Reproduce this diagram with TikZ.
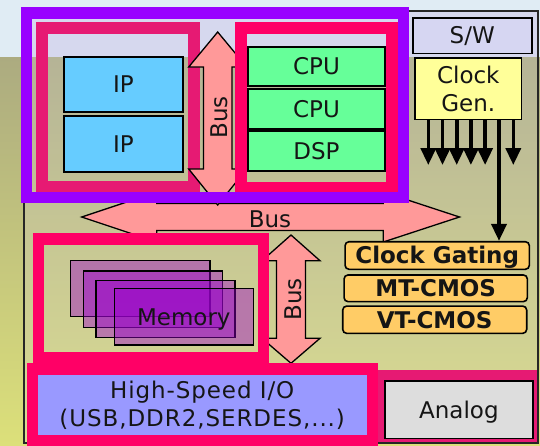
\documentclass[tikz,border=0pt]{standalone}
\usepackage{fontspec}
\setmainfont{DejaVu Sans}
\usetikzlibrary{arrows.meta}
\definecolor{purp}{HTML}{9900FF}
\definecolor{pinkS}{HTML}{FF0066}
\definecolor{pinkH}{HTML}{E61A73}
\definecolor{busc}{HTML}{FF9999}
\definecolor{ipblue}{HTML}{66CCFF}
\definecolor{cpugreen}{HTML}{66FF99}
\definecolor{memp}{HTML}{9900CC}
\definecolor{hsblue}{HTML}{9999FF}
\definecolor{anagray}{HTML}{DDDDDD}
\definecolor{swlav}{HTML}{D6D6F2}
\definecolor{clkyel}{HTML}{FFFF99}
\definecolor{orng}{HTML}{FFCC66}
\definecolor{bgtop}{HTML}{E0ECF4}
\definecolor{bgmid}{HTML}{ACAB80}
\definecolor{bgbot}{HTML}{DCE07A}
\definecolor{chipov}{HTML}{D8D4E8}
\definecolor{chiptop}{HTML}{D6D8EE}
\definecolor{txt}{HTML}{151515}
\begin{document}
\begin{tikzpicture}[x=1pt,y=-1pt,
  font=\fontsize{23}{28}\selectfont,
  box/.style={draw=black, line width=1.6pt, inner sep=0pt, text=txt,
    text depth=0pt, text height=16.8pt},
  mlbox/.style={draw=black, line width=1.6pt, inner sep=0pt, text=txt, align=center},
  optbox/.style={box, fill=orng, rounded corners=4pt, font=\fontsize{23}{28}\selectfont\bfseries},
  memrect/.style={draw=black, line width=1.4pt, fill=memp, fill opacity=0.42,
    draw opacity=1, text opacity=1, inner sep=0pt, text=txt,
    text depth=0pt, text height=16.8pt},
  busarrow/.style={draw=black, line width=1.3pt, fill=busc, line join=miter},
  buslabel/.style={text=txt, inner sep=0pt, text depth=0pt, text height=16.8pt},
  clkarrow/.style={line width=3.6pt, -{Triangle[width=15pt,length=17pt]}},
  pinkframe/.style={pinkS, line width=11.6pt},
  hatchframe/.style={pinkH, line width=12pt}
]
\useasboundingbox (0,0) rectangle (540,445);
% background
\fill[bgtop] (0,0) rectangle (540,57);
\shade[top color=bgmid, bottom color=bgbot] (0,57) rectangle (540,445);
% chip
\fill[chiptop] (24,11) rectangle (538,57);
\fill[chipov, opacity=0.22] (24,57) rectangle (538,443);
\draw[line width=1.2pt, black!85] (24,11) rectangle (538,443);

% horizontal bus
\draw[busarrow] (81.7,217) -- (156.7,192) -- (156.7,203.5) -- (383.3,203.5)
  -- (383.3,192) -- (459.5,217) -- (383.3,242) -- (383.3,230.5)
  -- (156.7,230.5) -- (156.7,242) -- cycle;
\node[buslabel] (bush) at (270,219.3) {Bus};

% left (IP) group
\draw[hatchframe] (42,28) rectangle (194,187);
\node[box, fill=ipblue, minimum width=119pt, minimum height=55pt] (ip1) at (123.5,84.5) {IP};
\node[box, fill=ipblue, minimum width=119pt, minimum height=56pt] (ip2) at (123.5,144) {IP};

% upper vertical bus
\draw[busarrow] (217.7,32) -- (246.7,67) -- (232,67) -- (232,169) -- (246.7,169)
  -- (217.7,205) -- (188.7,169) -- (203.4,169) -- (203.4,67) -- (188.7,67) -- cycle;
\node[buslabel, rotate=90] (busv1) at (219.5,117.5) {Bus};

% CPU group
\draw[pinkframe] (240.8,27.8) rectangle (391.9,187.3);
\node[box, fill=cpugreen, minimum width=137pt, minimum height=39pt] (cpu1) at (316.5,66.5) {CPU};
\node[box, fill=cpugreen, minimum width=137pt, minimum height=40pt] (cpu2) at (316.5,109) {CPU};
\node[box, fill=cpugreen, minimum width=137pt, minimum height=40pt] (dsp) at (316.5,151) {DSP};

% purple frame
\draw[purp, line width=11.7pt] (26.5,13.3) rectangle (403.5,197.5);

% S/W and clock generator
\node[box, fill=swlav, minimum width=119pt, minimum height=35.6pt] (sw) at (472.2,35.5) {S/W};
\node[mlbox, fill=clkyel, minimum width=106.7pt, minimum height=61.6pt] (clk) at (468.3,88.5) {Clock\\Gen.};

% clock gating etc.
\node[optbox, minimum width=184.3pt, minimum height=27.6pt] (cg) at (437.2,255.5) {Clock Gating};
\node[optbox, minimum width=183.3pt, minimum height=26.7pt] (mt) at (435.7,288.3) {MT-CMOS};
\node[optbox, minimum width=184pt, minimum height=27.3pt] (vt) at (434.7,319.7) {VT-CMOS};

% clock arrows
\coordinate (e1) at (428.3,165);
\coordinate (e2) at (442.5,165);
\coordinate (e3) at (456.7,165);
\coordinate (e4) at (470.9,165);
\coordinate (e5) at (485.1,165);
\coordinate (e7) at (513.3,165);
\coordinate (lx) at (499,0);
\foreach \e in {e1,e2,e3,e4,e5,e7}
  \draw[clkarrow] (clk.south -| \e) -- (\e);
\draw[clkarrow] (clk.south -| lx) -- (cg.north -| lx);

% lower vertical bus
\draw[busarrow] (291,235) -- (320,260.7) -- (305.5,260.7) -- (305.5,338.3) -- (320,338.3)
  -- (291,363.3) -- (262,338.3) -- (276.5,338.3) -- (276.5,260.7) -- (262,260.7) -- cycle;
\node[buslabel, rotate=90] (busv2) at (293,299.5) {Bus};

% memory group
\draw[pinkframe] (38.3,239.1) rectangle (263.4,357.3);
\node[memrect, minimum width=139.3pt, minimum height=56pt] (m1) at (140.3,288.7) {};
\node[memrect, minimum width=139pt, minimum height=56.3pt] (m2) at (152.8,299.2) {};
\node[memrect, minimum width=139pt, minimum height=56.6pt] (m3) at (165.5,309) {};
\node[memrect, minimum width=139pt, minimum height=56.7pt] (m4) at (183.8,316.7) {Memory};

% high-speed I/O
\fill[pinkS] (26.7,362.7) rectangle (378.3,446);
\node[fill=hsblue, inner sep=0pt, minimum width=329pt, minimum height=60pt, text=txt, align=center,
  font=\fontsize{23}{28}\selectfont\addfontfeature{LetterSpace=4}] (hs) at (202.2,405)
  {High-Speed I/O\\(USB,DDR2,SERDES,...)};

% analog
\fill[pinkH] (378.3,370) rectangle (537.4,442.4);
\node[box, fill=anagray, minimum width=147.7pt, minimum height=57.3pt] (ana) at (458.9,409.7) {Analog};
\end{tikzpicture}
\end{document}
